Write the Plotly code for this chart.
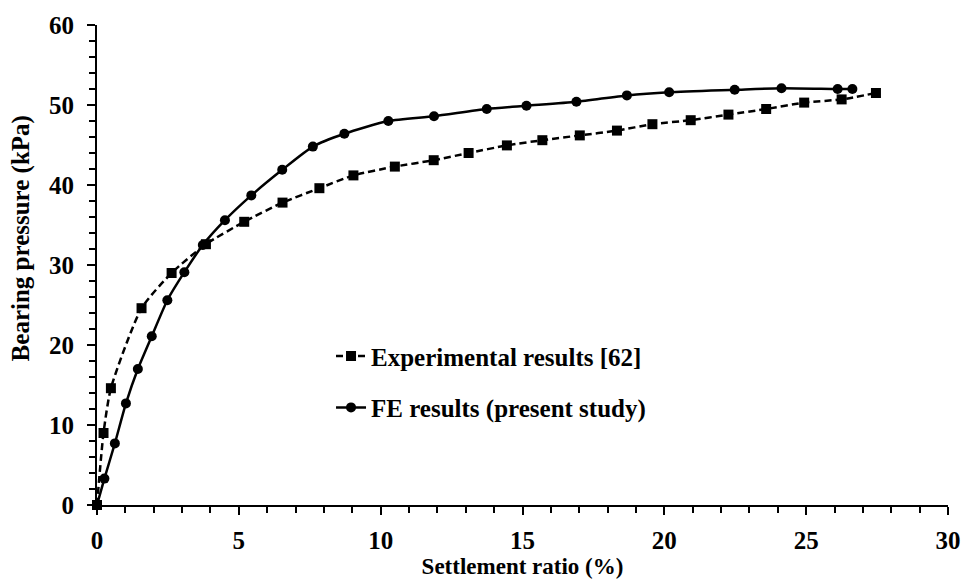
import plotly.graph_objects as go

# Experimental results [62]
exp_x = [0, 0.23, 0.49, 1.57, 2.63, 3.84, 5.19, 6.54, 7.84, 9.04, 10.5, 11.87, 13.1,
         14.45, 15.7, 17.02, 18.33, 19.58, 20.93, 22.26, 23.59, 24.93, 26.25, 27.46]
exp_y = [0, 9.0, 14.6, 24.6, 29.0, 32.6, 35.4, 37.8, 39.6, 41.2, 42.3, 43.1, 44.0,
         44.95, 45.6, 46.2, 46.8, 47.6, 48.1, 48.8, 49.5, 50.3, 50.7, 51.5]

# FE results (present study)
fe_x = [0, 0.26, 0.63, 1.02, 1.44, 1.93, 2.48, 3.08, 3.73, 4.51, 5.44, 6.53, 7.61,
        8.72, 10.27, 11.88, 13.74, 15.14, 16.9, 18.68, 20.17, 22.48, 24.13, 26.11, 26.63]
fe_y = [0, 3.3, 7.7, 12.7, 17.0, 21.1, 25.6, 29.1, 32.5, 35.6, 38.7, 41.9, 44.8,
        46.4, 48.0, 48.6, 49.5, 49.9, 50.4, 51.2, 51.6, 51.9, 52.1, 52.0, 52.0]

x_ticks = [0, 5, 10, 15, 20, 25, 30]
y_ticks = [0, 10, 20, 30, 40, 50, 60]

FONT = "Liberation Serif"

fig = go.Figure()
fig.add_trace(go.Scatter(
    x=exp_x, y=exp_y, mode="lines+markers", name="Experimental results [62]",
    line=dict(color="black", width=2.5, dash="7px,4px", shape="spline", smoothing=0.6),
    marker=dict(symbol="square", size=10, color="black"),
    cliponaxis=False, legendgroup="a"))
fig.add_trace(go.Scatter(
    x=fe_x, y=fe_y, mode="lines+markers", name="FE results (present study)",
    line=dict(color="black", width=2.5, shape="spline", smoothing=0.6),
    marker=dict(symbol="circle", size=10, color="black"),
    cliponaxis=False, legendgroup="b"))

axis_common = dict(
    showgrid=False, zeroline=False, showline=True, linecolor="black", linewidth=2,
    ticks="outside", tickcolor="black", tickwidth=2, ticklen=8,
    tickfont=dict(family=FONT, size=25, color="black", weight="bold"),
)

fig.update_xaxes(
    range=[0, 30], tickvals=x_ticks, ticktext=[str(v) for v in x_ticks],
    minor=dict(dtick=1, ticks="outside", ticklen=6, tickwidth=2, tickcolor="black"),
    title=dict(text="Settlement ratio (%)", standoff=4,
               font=dict(family=FONT, size=23, color="black", weight="bold")),
    ticklabelstandoff=4,
    **axis_common)
fig.update_yaxes(
    range=[0, 60], tickvals=y_ticks, ticktext=[str(v) for v in y_ticks],
    minor=dict(dtick=2, ticks="outside", ticklen=6, tickwidth=2, tickcolor="black"),
    ticklabelstandoff=8,
    **axis_common)

fig.add_annotation(
    text="Bearing pressure (kPa)", textangle=-90,
    xref="paper", yref="paper", x=-0.089, y=0.556,
    xanchor="center", yanchor="middle", showarrow=False,
    font=dict(family=FONT, size=25, color="black", weight="bold"))

fig.update_layout(
    width=973, height=588,
    margin=dict(l=97, r=20, t=22, b=83),
    plot_bgcolor="white", paper_bgcolor="white",
    legend=dict(x=0.275, y=0.358, xanchor="left", yanchor="top",
                font=dict(family=FONT, size=25, color="black", weight="bold"),
                bgcolor="rgba(0,0,0,0)", tracegroupgap=16, itemwidth=30),
    showlegend=True,
)

fig.write_html("out.html")
